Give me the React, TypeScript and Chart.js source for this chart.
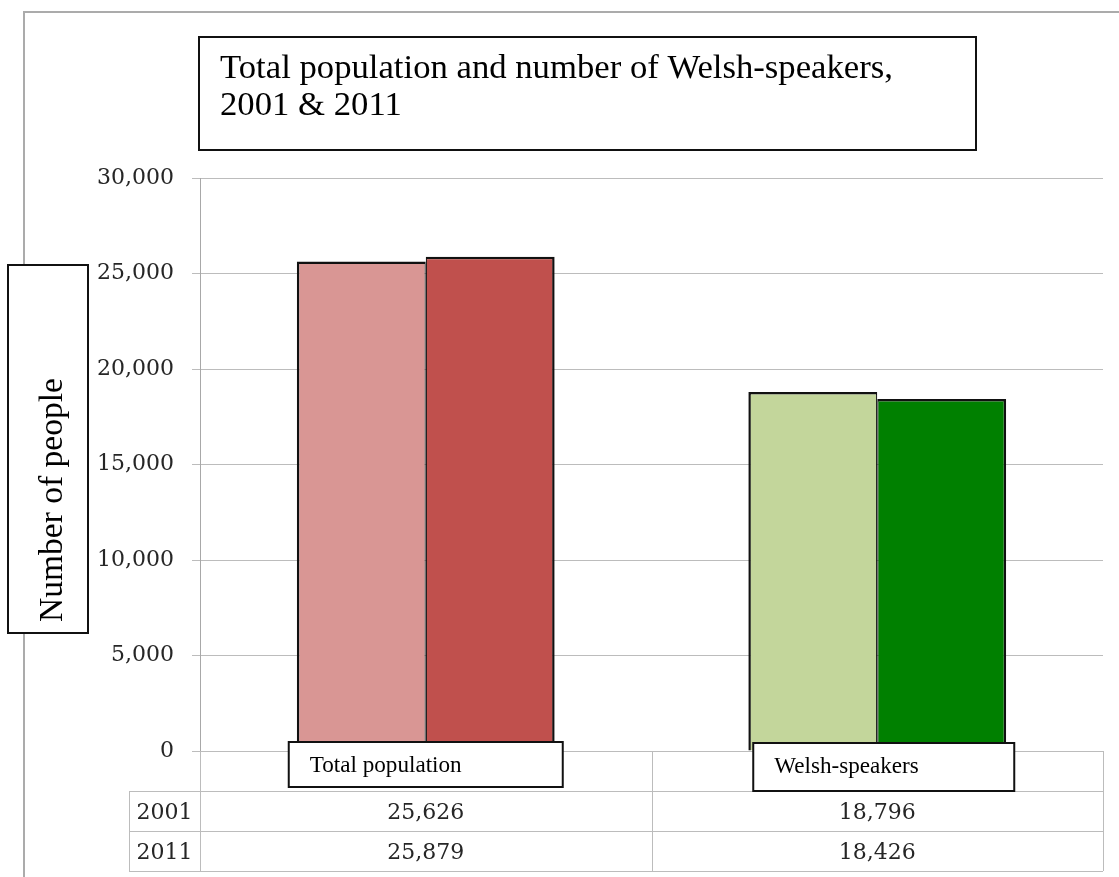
import React, { useEffect, useRef } from "react";
import { Chart, registerables } from "chart.js";

Chart.register(...registerables);

// ---- data ----
const categories = ["Total population", "Welsh-speakers"];
const years = ["2001", "2011"];
const values2001 = [25626, 18796];
const values2011 = [25879, 18426];
const yTicks = [0, 5000, 10000, 15000, 20000, 25000, 30000];
const titleLines = ["Total population and number of Welsh-speakers,", "2001 & 2011"];
const yAxisTitle = "Number of people";

// ---- styles ----
const colors2001 = ["#D99694", "#C3D69B"];
const colors2011 = ["#C0504D", "#008000"];
const W = 1119;
const H = 877;
const NUM_FONT = "'DejaVu Serif'";
const TXT_FONT = "'Liberation Serif'";
const GRID = "#bcbcbc";
const NUM_COLOR = "#262626";

function fitSize(ctx: CanvasRenderingContext2D, text: string, family: string, target: number) {
  ctx.font = `100px ${family}`;
  const w = ctx.measureText(text).width;
  return (100 * target) / w;
}

const fmt = (v: number) => v.toLocaleString("en-US");

const decoPlugin = {
  id: "deco",
  afterDraw(chart: any) {
    const ctx: CanvasRenderingContext2D = chart.ctx;
    const area = chart.chartArea;
    const xs = chart.scales.x;
    ctx.save();

    // outer frame
    ctx.strokeStyle = "#ababab";
    ctx.lineWidth = 2;
    ctx.beginPath();
    ctx.moveTo(24, H);
    ctx.lineTo(24, 12);
    ctx.lineTo(W, 12);
    ctx.stroke();

    // data table
    const c0 = xs.getPixelForValue(0);
    const c1 = xs.getPixelForValue(1);
    const mid = (c0 + c1) / 2;
    const tableLeft = area.left - 71;
    const rowH = 40;
    const r1 = area.bottom + rowH;
    const r2 = r1 + rowH;
    const r3 = r2 + rowH;
    ctx.strokeStyle = GRID;
    ctx.lineWidth = 1;
    const hl = (y: number, x0: number, x1: number) => {
      ctx.beginPath();
      ctx.moveTo(x0, Math.round(y) + 0.5);
      ctx.lineTo(x1, Math.round(y) + 0.5);
      ctx.stroke();
    };
    const vl = (x: number, y0: number, y1: number) => {
      ctx.beginPath();
      ctx.moveTo(Math.round(x) + 0.5, y0);
      ctx.lineTo(Math.round(x) + 0.5, y1);
      ctx.stroke();
    };
    hl(r1, tableLeft, area.right);
    hl(r2, tableLeft, area.right);
    hl(r3, tableLeft, area.right);
    vl(tableLeft, r1, r3);
    vl(area.left, area.bottom, r3);
    vl(mid, area.bottom, r3);
    vl(area.right, area.bottom, r3);

    const series = [values2001, values2011];
    ctx.fillStyle = NUM_COLOR;
    ctx.font = `22px ${NUM_FONT}`;
    ctx.textBaseline = "alphabetic";
    ctx.textAlign = "center";
    const rowBottoms = [r2, r3];
    series.forEach((vals, ri) => {
      const yb = rowBottoms[ri] - 12;
      ctx.fillText(years[ri], (tableLeft + area.left) / 2, yb);
      vals.forEach((v, ci) => {
        ctx.fillText(fmt(v), xs.getPixelForValue(ci), yb);
      });
    });

    // title box
    ctx.fillStyle = "#fff";
    ctx.strokeStyle = "#111";
    ctx.lineWidth = 2;
    ctx.fillRect(199, 37, 777, 113);
    ctx.strokeRect(199, 37, 777, 113);
    const ts = fitSize(ctx, titleLines[0], TXT_FONT, 673);
    ctx.font = `${ts}px ${TXT_FONT}`;
    ctx.fillStyle = "#000";
    ctx.textAlign = "left";
    ctx.fillText(titleLines[0], 220, 78);
    ctx.fillText(titleLines[1], 220, 115);

    // y axis title box
    ctx.fillStyle = "#fff";
    ctx.fillRect(8, 265, 80, 368);
    ctx.strokeRect(8, 265, 80, 368);
    const ys = fitSize(ctx, yAxisTitle, TXT_FONT, 244);
    ctx.save();
    ctx.translate(62, 500);
    ctx.rotate(-Math.PI / 2);
    ctx.font = `${ys}px ${TXT_FONT}`;
    ctx.fillStyle = "#000";
    ctx.textAlign = "center";
    ctx.fillText(yAxisTitle, 0, 0);
    ctx.restore();

    // category label boxes
    const boxOff = [-137, -124];
    const boxW = [274, 261];
    const boxTop = [area.bottom - 9, area.bottom - 8];
    const boxH = [45, 48];
    const cs = fitSize(ctx, categories[0], TXT_FONT, 152);
    categories.forEach((cat, i) => {
      const cx = xs.getPixelForValue(i);
      const bx = cx + boxOff[i];
      ctx.fillStyle = "#fff";
      ctx.strokeStyle = "#111";
      ctx.lineWidth = 2;
      ctx.fillRect(bx, boxTop[i], boxW[i], boxH[i]);
      ctx.strokeRect(bx, boxTop[i], boxW[i], boxH[i]);
      ctx.fillStyle = "#000";
      ctx.font = `${cs}px ${TXT_FONT}`;
      ctx.textAlign = "left";
      ctx.fillText(cat, bx + 21, boxTop[i] + 30);
    });

    ctx.restore();
  },
};

export default function App() {
  const ref = useRef<HTMLCanvasElement | null>(null);
  useEffect(() => {
    if (!ref.current) return;
    const chart = new Chart(ref.current, {
      type: "bar",
      data: {
        labels: categories,
        datasets: [
          {
            label: years[0],
            data: values2001,
            backgroundColor: colors2001,
            borderColor: "#111111",
            borderWidth: { left: 2.5, top: 2.5, right: 1.2, bottom: 0 },
            borderSkipped: false,
          },
          {
            label: years[1],
            data: values2011,
            backgroundColor: colors2011,
            borderColor: "#111111",
            borderWidth: { left: 1.2, top: 2.5, right: 2.5, bottom: 0 },
            borderSkipped: false,
          },
        ],
      },
      options: {
        animation: false,
        responsive: false,
        maintainAspectRatio: false,
        layout: { padding: { left: 0, top: 178, right: 16, bottom: 126 } },
        plugins: {
          legend: { display: false },
          tooltip: { enabled: false },
          title: { display: false },
        },
        datasets: { bar: { categoryPercentage: 0.571, barPercentage: 1.0 } },
        scales: {
          x: {
            display: false,
          },
          y: {
            min: yTicks[0],
            max: yTicks[yTicks.length - 1],
            afterBuildTicks: (scale: any) => {
              scale.ticks = yTicks.map((v) => ({ value: v }));
            },
            afterFit: (scale: any) => {
              scale.width = 200;
            },
            grid: {
              color: GRID,
              lineWidth: 1,
              drawTicks: true,
              tickLength: 8,
            },
            border: { display: true, color: "#a8a8a8", width: 1 },
            ticks: {
              padding: 18,
              color: NUM_COLOR,
              font: { family: "DejaVu Serif", size: 22 },
              callback: (v: any) => fmt(Number(v)),
            },
          },
        },
      },
      plugins: [decoPlugin],
    });
    return () => chart.destroy();
  }, []);
  return (
    <div style={{ position: "absolute", left: 0, top: 0, width: W, height: H, background: "#fff" }}>
      <canvas ref={ref} width={W} height={H} style={{ display: "block" }} />
    </div>
  );
}
